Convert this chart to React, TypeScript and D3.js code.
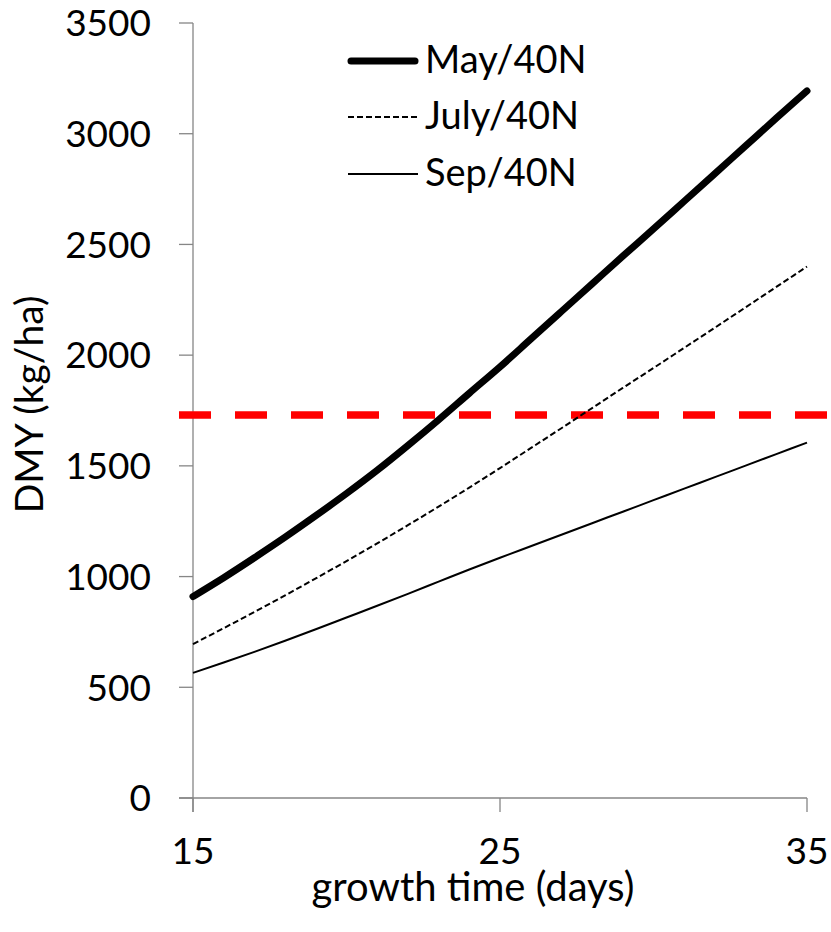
import React from "react";
import * as d3 from "d3";

const days = [15, 16, 17, 18, 19, 20, 21, 22, 23, 24, 25, 26, 27, 28, 29, 30, 31, 32, 33, 34, 35];
const mayValues = [910, 995, 1085, 1178, 1275, 1375, 1480, 1592, 1708, 1828, 1947, 2072, 2197, 2322, 2447, 2570, 2695, 2820, 2945, 3070, 3193];
const julyValues = [695, 767, 840, 915, 992, 1070, 1150, 1232, 1316, 1402, 1490, 1580, 1670, 1761, 1852, 1942, 2033, 2124, 2216, 2308, 2400];
const sepValues = [565, 612, 660, 710, 762, 815, 868, 922, 977, 1032, 1085, 1137, 1189, 1241, 1293, 1345, 1397, 1449, 1501, 1553, 1605];
const thresholdValue = 1730;
const yTicks = [0, 500, 1000, 1500, 2000, 2500, 3000, 3500];
const xTicks = [15, 25, 35];
const seriesNames = ["May/40N", "July/40N", "Sep/40N"];

const W = 831;
const H = 932;
const FONT = "Lato, 'Open Sans', sans-serif";

export default function App() {
  const x = d3.scaleLinear().domain([15, 35]).range([193, 807]);
  const y = d3.scaleLinear().domain([0, 3500]).range([798, 23]);

  const mk = (vals: number[]) =>
    d3
      .line<number>()
      .x((_, i) => x(days[i]))
      .y((v) => y(v))
      .curve(d3.curveMonotoneX)(vals) as string;

  const series = [
    { name: seriesNames[0], vals: mayValues, width: 7, dash: undefined as string | undefined },
    { name: seriesNames[1], vals: julyValues, width: 2, dash: "6 3" },
    { name: seriesNames[2], vals: sepValues, width: 2, dash: undefined },
  ];

  const axisColor = "#868686";
  const legendY = [61, 117, 174];

  return (
    <svg
      width={W}
      height={H}
      style={{ position: "absolute", left: 0, top: 0, background: "#fff" }}
      fontFamily={FONT}
    >
      <rect x={0} y={0} width={W} height={H} fill="#fff" />
      {/* y axis */}
      <line x1={x(15)} x2={x(15)} y1={y(3500)} y2={812} stroke={axisColor} strokeWidth={1.3} />
      {yTicks.map((t) => (
        <g key={t}>
          <line x1={179} x2={x(15)} y1={y(t)} y2={y(t)} stroke={axisColor} strokeWidth={1.3} />
          <text x={151} y={y(t)} dy="0.36em" textAnchor="end" fontSize={37} fill="#000">
            {t}
          </text>
        </g>
      ))}
      {/* x axis */}
      <line x1={179} x2={x(35)} y1={y(0)} y2={y(0)} stroke={axisColor} strokeWidth={1.3} />
      {xTicks.map((t) => (
        <g key={t}>
          <line x1={x(t)} x2={x(t)} y1={y(0)} y2={812} stroke={axisColor} strokeWidth={1.3} />
          <text x={x(t)} y={864} textAnchor="middle" fontSize={37} fill="#000">
            {t}
          </text>
        </g>
      ))}
      <text x={473} y={901} textAnchor="middle" fontSize={40} fill="#000">
        growth time (days)
      </text>
      <text
        transform={`translate(43, ${(y(0) + y(3500)) / 2 - 6}) rotate(-90)`}
        textAnchor="middle"
        fontSize={39}
        fill="#000"
      >
        DMY (kg/ha)
      </text>

      {/* threshold */}
      <line
        x1={179}
        x2={831}
        y1={y(thresholdValue)}
        y2={y(thresholdValue)}
        stroke="#ff0000"
        strokeWidth={7.5}
        strokeDasharray="32 24"
      />

      {/* series */}
      {series.map((s) => (
        <path
          key={s.name}
          d={mk(s.vals)}
          fill="none"
          stroke="#000"
          strokeWidth={s.width}
          strokeDasharray={s.dash}
          strokeLinecap={s.width > 4 ? "round" : "butt"}
        />
      ))}

      {/* legend */}
      {series.map((s, i) => (
        <g key={s.name}>
          <line
            x1={s.width > 4 ? 351 : 348}
            x2={s.width > 4 ? 415 : 418}
            y1={legendY[i]}
            y2={legendY[i]}
            stroke="#000"
            strokeWidth={s.width}
            strokeDasharray={s.dash}
            strokeLinecap={s.width > 4 ? "round" : "butt"}
          />
          <text x={425} y={legendY[i] + 12} fontSize={38} fill="#000">
            {s.name}
          </text>
        </g>
      ))}
    </svg>
  );
}
